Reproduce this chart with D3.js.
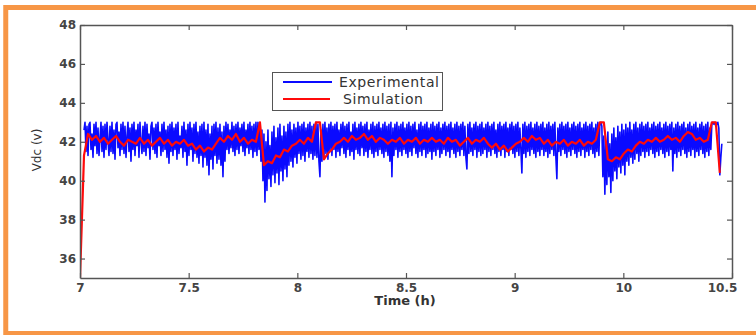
<!DOCTYPE html>
<html><head><meta charset="utf-8">
<script src="https://cdn.jsdelivr.net/npm/d3@7"></script>
<style>body{margin:0;background:#fff}svg{display:block}</style>
</head><body>
<svg id="c" width="756" height="335"></svg>
<script>
// ---- data ----
const xTickValues = [7, 7.5, 8, 8.5, 9, 9.5, 10];
const xTickLabels = ["7", "7.5", "8", "8.5", "9", "10", "10.5"];
const yTickValues = [36, 38, 40, 42, 44, 46, 48];
const seriesNames = ["Experimental", "Simulation"];
// sampling grids (hours)
const expStart = 7.0184, expStep = 0.0046;
const simStart = 7.0, simStep = 0.0184;
const experimental = [
42.6,43.0,41.5,42.8,41.3,42.9,43.0,41.6,42.4,41.2,
42.9,41.8,43.0,41.4,42.7,41.3,42.2,43.0,41.5,42.8,
41.2,42.9,41.6,43.0,42.1,41.3,42.8,41.5,43.0,41.4,
42.6,41.1,42.9,43.0,41.7,42.5,41.3,42.9,41.6,43.0,
41.4,42.8,41.2,42.3,43.0,41.5,42.7,41.0,42.9,41.6,
43.0,41.3,42.6,41.8,42.9,41.2,43.0,42.0,41.4,42.8,
41.5,43.0,41.3,42.9,41.7,42.4,41.1,42.8,43.0,41.6,
42.7,41.4,42.9,41.2,43.0,41.8,42.5,41.3,42.9,41.5,
43.0,41.6,42.6,41.2,42.8,40.9,42.9,41.5,43.0,41.3,
42.7,41.6,42.9,41.1,43.0,41.4,42.3,41.7,42.8,41.2,
43.0,41.5,42.6,40.8,42.9,41.3,43.0,41.6,42.7,41.0,
42.9,41.4,43.0,41.2,42.5,40.9,42.8,41.3,42.9,40.7,
43.0,41.2,42.6,40.8,42.9,40.3,42.4,41.1,42.8,40.6,
42.9,41.3,43.0,40.9,42.7,41.1,42.9,40.8,42.5,40.2,
42.8,41.0,43.0,41.6,42.9,41.4,42.6,41.7,43.0,41.5,
42.8,41.3,42.9,41.6,43.0,41.4,42.7,41.8,42.9,41.5,
43.0,41.3,42.6,41.7,42.9,41.4,43.0,41.6,42.8,41.2,
42.9,41.5,43.0,41.3,43.0,41.6,42.9,41.0,42.6,40.0,
42.4,38.9,42.0,39.5,42.6,40.1,41.8,39.7,42.5,40.3,
42.8,39.9,42.2,40.4,42.7,39.8,42.9,40.5,42.3,40.0,
42.8,40.6,42.5,40.2,42.9,40.8,43.0,41.0,42.6,40.7,
42.9,41.2,42.7,40.9,43.0,41.4,42.8,41.1,42.9,41.3,
43.0,41.0,42.7,41.5,42.9,41.2,43.0,41.4,42.8,41.1,
42.9,41.3,43.0,41.2,42.9,41.0,40.2,42.6,41.0,42.9,
41.2,43.0,41.4,42.7,41.1,42.9,41.5,43.0,41.3,42.8,
41.6,42.9,41.2,43.0,41.5,42.6,41.3,42.9,41.7,43.0,
41.4,42.8,41.2,42.9,41.6,43.0,41.3,42.5,41.5,42.9,
41.1,43.0,41.6,42.7,41.4,42.9,41.3,43.0,41.7,42.8,
41.3,42.9,41.5,43.0,41.2,42.6,41.6,42.9,41.4,43.0,
41.2,42.8,41.5,42.9,41.3,43.0,41.6,42.7,41.4,42.9,
41.2,43.0,41.5,42.8,41.3,42.9,41.0,43.0,40.2,42.7,
41.3,42.9,41.6,43.0,41.2,42.8,41.5,42.9,41.3,43.0,
41.6,42.7,41.4,42.9,41.2,43.0,41.5,42.8,41.3,42.9,
41.7,43.0,41.4,42.6,41.2,42.9,41.5,43.0,41.3,42.8,
41.6,42.9,41.2,43.0,41.4,42.7,41.5,42.9,41.1,43.0,
41.5,42.8,41.3,42.9,41.6,43.0,41.2,42.7,41.4,42.9,
41.6,43.0,41.3,42.8,41.5,42.9,41.2,43.0,41.6,42.7,
41.4,42.9,41.2,43.0,41.5,42.8,41.3,42.9,41.6,43.0,
41.3,42.8,41.2,40.6,42.9,41.4,43.0,41.5,42.7,41.3,
42.9,41.6,43.0,41.2,42.8,41.5,42.9,41.3,43.0,41.4,
42.7,41.6,42.9,41.2,43.0,41.5,42.8,41.3,42.9,41.6,
43.0,41.4,42.6,41.2,42.9,41.5,43.0,41.3,42.8,41.6,
42.9,41.2,43.0,41.5,42.7,41.3,42.9,41.6,43.0,41.4,
42.8,41.2,42.9,41.5,43.0,41.3,42.7,41.6,40.4,42.9,
41.4,43.0,41.2,42.8,41.5,42.9,41.3,43.0,41.6,42.7,
41.4,42.9,41.2,43.0,41.5,42.8,41.3,42.9,41.6,43.0,
41.3,42.7,41.5,42.9,41.2,43.0,41.4,42.8,41.6,42.9,
41.3,43.0,41.2,40.1,42.7,41.5,42.9,41.3,43.0,41.6,
42.8,41.4,42.9,41.2,43.0,41.5,42.7,41.3,42.9,41.6,
43.0,41.4,42.8,41.2,42.9,41.5,43.0,41.3,42.7,41.6,
42.9,41.2,43.0,41.5,42.8,41.3,42.9,41.6,43.0,41.4,
42.7,41.2,42.9,41.5,43.0,41.3,42.9,43.0,42.8,40.2,
42.3,39.3,42.0,39.8,42.5,40.2,41.9,39.4,42.4,40.0,
42.7,40.5,42.2,40.1,42.8,40.7,42.5,40.4,42.9,40.8,
42.6,40.3,42.9,41.0,42.7,40.8,43.0,41.2,42.6,40.9,
42.9,41.1,43.0,41.4,42.7,41.0,42.9,41.3,43.0,41.5,
42.8,41.2,42.9,41.5,43.0,41.3,42.7,41.6,42.9,41.4,
43.0,41.2,42.8,41.5,42.9,41.3,43.0,41.6,42.7,41.4,
42.9,41.2,43.0,41.5,42.8,41.3,42.9,41.6,43.0,40.5,
42.7,41.4,42.9,41.2,43.0,41.5,42.8,41.3,42.9,41.6,
43.0,41.4,42.7,41.2,42.9,41.5,43.0,41.3,42.8,41.6,
42.9,41.2,43.0,41.5,42.7,41.3,42.9,41.6,43.0,41.4,
42.8,41.2,42.9,41.5,43.0,41.3,42.7,41.6,42.9,43.0,
42.9,43.0,42.8,42.9,43.0,42.7,40.3,41.2,41.9
];
const simulation = [
35.0,41.3,42.4,42.1,42.3,42.0,42.2,41.9,42.1,42.3,
42.0,41.8,42.1,42.0,41.9,42.2,41.9,42.1,41.8,42.0,
42.2,41.9,42.1,41.8,42.0,41.9,42.1,41.8,41.9,41.6,
41.8,41.5,41.7,41.6,41.9,42.2,42.0,42.3,42.1,42.4,
42.0,42.2,41.9,42.1,42.0,43.0,40.8,41.0,40.9,41.3,
41.2,41.6,41.5,41.8,41.9,42.1,41.9,42.2,42.0,43.0,
43.0,41.1,41.4,41.6,41.9,42.0,42.2,42.0,42.3,42.1,
42.2,42.4,42.1,42.3,42.0,42.2,42.1,41.9,42.1,42.0,
42.2,41.9,42.1,42.0,42.2,41.9,42.1,42.0,42.2,42.0,
42.1,41.9,42.2,42.0,42.1,41.8,42.0,42.2,41.9,42.1,
42.0,42.2,41.9,41.7,41.9,41.6,41.8,41.5,41.7,41.9,
42.0,42.2,42.0,42.3,42.1,42.2,41.9,42.1,41.8,42.0,
41.9,42.1,41.8,42.0,41.9,42.1,41.8,42.0,41.9,42.1,
43.0,43.0,41.1,41.0,41.2,41.1,41.4,41.6,41.5,41.8,
42.0,41.9,42.1,42.0,42.2,42.0,42.1,42.3,42.1,42.2,
42.0,42.3,42.5,42.4,42.1,42.2,42.0,42.1,43.0,43.0,
40.4
];
const colors = ["#0a0aff", "#ff0a0a"];

// ---- chart ----
const svg = d3.select("#c");
const axisColor = "#555";
const L = 80, R = 732, T = 25, B = 278;

svg.append("rect").attr("x", 5.75).attr("y", 7.5).attr("width", 800).attr("height", 326)
  .attr("fill", "#fff").attr("stroke", "#f79646").attr("stroke-width", 5);

const x = d3.scaleLinear().domain([7, 10]).range([L, R]);
const y = d3.scaleLinear().domain([35, 48]).range([B, T]);

svg.append("clipPath").attr("id", "clip").append("rect")
  .attr("x", L).attr("y", T).attr("width", R - L).attr("height", B - T);

const expData = experimental.map((v, i) => [expStart + i * expStep, v]);
const simData = simulation.map((v, i) => [simStart + i * simStep, v]);
const line = d3.line().x(d => x(d[0])).y(d => y(d[1]));

const g = svg.append("g").attr("clip-path", "url(#clip)");
g.append("path").datum(expData).attr("d", line).attr("fill", "none")
  .attr("stroke", colors[0]).attr("stroke-width", 1.6).attr("stroke-linejoin", "round");
g.append("path").datum(simData).attr("d", line).attr("fill", "none")
  .attr("stroke", colors[1]).attr("stroke-width", 2.2).attr("stroke-linejoin", "round");

function styleAxis(sel) {
  sel.select(".domain").attr("stroke", axisColor).attr("stroke-width", 1.5);
  sel.selectAll(".tick line").attr("stroke", axisColor).attr("stroke-width", 1.2);
  sel.selectAll(".tick text").attr("fill", "#444")
    .style("font-family", "'DejaVu Sans', sans-serif").style("font-size", "12px").style("font-weight", "bold");
}

const xb = svg.append("g").attr("transform", `translate(0,${B})`)
  .call(d3.axisBottom(x).tickValues(xTickValues)
    .tickFormat((d, i) => xTickLabels[i]).tickSizeInner(-5).tickSizeOuter(0).tickPadding(5));
styleAxis(xb);
xb.selectAll(".tick text").filter((d, i) => i === xTickValues.length - 1).attr("dx", -10);

const xt = svg.append("g").attr("transform", `translate(0,${T})`)
  .call(d3.axisTop(x).tickValues(xTickValues).tickFormat("").tickSizeInner(-5).tickSizeOuter(0));
styleAxis(xt);

const yl = svg.append("g").attr("transform", `translate(${L},0)`)
  .call(d3.axisLeft(y).tickValues(yTickValues).tickSizeInner(-5).tickSizeOuter(0).tickPadding(4));
styleAxis(yl);

const yr = svg.append("g").attr("transform", `translate(${R},0)`)
  .call(d3.axisRight(y).tickValues(yTickValues).tickFormat("").tickSizeInner(-5).tickSizeOuter(0));
styleAxis(yr);

// axis titles
svg.append("text").attr("x", 405).attr("y", 305).attr("text-anchor", "middle")
  .style("font-family", "'DejaVu Sans', sans-serif").style("font-size", "13px").style("font-weight", "bold")
  .attr("fill", "#333").text("Time (h)");
svg.append("text").attr("transform", "translate(41,150) rotate(-90)").attr("text-anchor", "middle")
  .style("font-family", "'DejaVu Sans', sans-serif").style("font-size", "12px")
  .attr("fill", "#333").text("Vdc (v)");

// legend
const lg = svg.append("g");
lg.append("rect").attr("x", 272.5).attr("y", 72.5).attr("width", 170).attr("height", 38)
  .attr("fill", "#fff").attr("stroke", "#555").attr("stroke-width", 1);
const legendRows = [{ y: 82, x2: 332, tx: 339 }, { y: 99, x2: 330, tx: 343 }];
seriesNames.forEach((name, i) => {
  const r = legendRows[i];
  lg.append("line").attr("x1", 283).attr("x2", r.x2).attr("y1", r.y).attr("y2", r.y)
    .attr("stroke", colors[i]).attr("stroke-width", 2);
  lg.append("text").attr("x", r.tx).attr("y", r.y).attr("dy", "0.36em")
    .style("font-family", "'DejaVu Sans', sans-serif").style("font-size", "14px")
    .style("letter-spacing", "0.6px").attr("fill", "#333").text(name);
});
</script>
</body></html>
